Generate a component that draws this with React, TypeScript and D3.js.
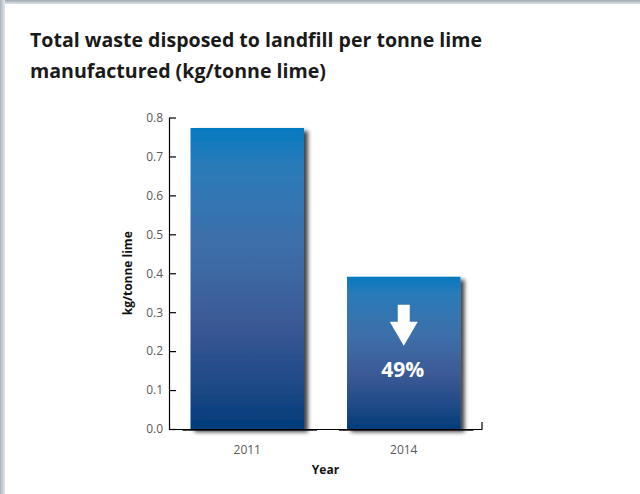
import React, { useEffect, useRef } from "react";
import * as d3 from "d3";

// chart data
const years = ["2011", "2014"];
const wastePerTonne = [0.773, 0.391];
const yTicks = [0, 0.1, 0.2, 0.3, 0.4, 0.5, 0.6, 0.7, 0.8];
const titleLines = ["Total waste disposed to landfill per tonne lime", "manufactured (kg/tonne lime)"];
const changeLabel = "49%";

const W = 640;
const H = 494;

const App = () => {
    const svgRef = useRef<SVGSVGElement>(null);

    useEffect(() => {
        const svg = d3.select(svgRef.current);
        svg.selectAll("*").remove();

        const margin = { top: 117.5, right: 158, bottom: 65, left: 169 };
        const font = "'Open Sans', 'Noto Sans', sans-serif";

        const defs = svg.append("defs");

        // bar gradient, bright blue on top to navy at the bottom
        const grad = defs.append("linearGradient").attr("id", "barGrad")
            .attr("x1", 0).attr("y1", 0).attr("x2", 0).attr("y2", 1);
        [["0%", "#0479c0"], ["12%", "#2a7bb9"], ["40%", "#3e6ea9"], ["65%", "#3a5995"], ["88%", "#1b4685"], ["100%", "#003c79"]]
            .forEach(([o, c]) => grad.append("stop").attr("offset", o).attr("stop-color", c));

        const frameTop = defs.append("linearGradient").attr("id", "frameTop")
            .attr("x1", 0).attr("y1", 0).attr("x2", 0).attr("y2", 1);
        frameTop.append("stop").attr("offset", "0%").attr("stop-color", "#9ea8b2");
        frameTop.append("stop").attr("offset", "100%").attr("stop-color", "#dfe4e8");
        const frameLeft = defs.append("linearGradient").attr("id", "frameLeft")
            .attr("x1", 0).attr("y1", 0).attr("x2", 1).attr("y2", 0);
        frameLeft.append("stop").attr("offset", "0%").attr("stop-color", "#a9b3bd");
        frameLeft.append("stop").attr("offset", "100%").attr("stop-color", "#e4e8ec");

        const shadow = defs.append("filter").attr("id", "shadow")
            .attr("x", "-10%").attr("y", "-10%").attr("width", "130%").attr("height", "130%");
        shadow.append("feDropShadow").attr("dx", 4).attr("dy", 3).attr("stdDeviation", 2.2)
            .attr("flood-color", "#000").attr("flood-opacity", 0.75);

        // page background and frame
        svg.append("rect").attr("width", W).attr("height", H).attr("fill", "#fff");
        svg.append("rect").attr("x", 0).attr("y", 0).attr("width", W).attr("height", 4).attr("fill", "url(#frameTop)");
        svg.append("rect").attr("x", 0).attr("y", 0).attr("width", 5).attr("height", H).attr("fill", "url(#frameLeft)");

        // title, fitted to the reference line widths
        const titleWidths = [452, 296];
        svg.append("g").selectAll("text").data(titleLines).join("text")
            .attr("x", 30).attr("y", (d, i) => 47 + i * 31)
            .attr("font-family", font).attr("font-weight", 700).attr("font-size", 19.5)
            .attr("textLength", (d, i) => titleWidths[i]).attr("lengthAdjust", "spacingAndGlyphs")
            .attr("fill", "#1a1a1a").text(d => d);

        const x = d3.scaleBand().domain(years).range([margin.left, W - margin.right])
            .paddingInner(0.275).paddingOuter(0.1375);
        const y = d3.scaleLinear().domain([0, 0.8]).range([H - margin.bottom, margin.top]);

        // bars
        svg.append("g").selectAll("rect").data(years).join("rect")
            .attr("x", d => x(d)!)
            .attr("y", (d, i) => y(wastePerTonne[i]))
            .attr("width", x.bandwidth())
            .attr("height", (d, i) => y(0) - y(wastePerTonne[i]))
            .attr("fill", "url(#barGrad)")
            .attr("filter", "url(#shadow)");

        // dark base line under each bar
        svg.append("g").selectAll("line").data(years).join("line")
            .attr("x1", d => x(d)! - 8).attr("x2", d => x(d)! + x.bandwidth() + 13)
            .attr("y1", y(0) + 1).attr("y2", y(0) + 1)
            .attr("stroke", "#111").attr("stroke-width", 1.5);

        // y axis
        const yAxis = svg.append("g").attr("transform", `translate(${margin.left},0)`)
            .call(d3.axisRight(y).tickValues(yTicks).tickFormat(d3.format(".1f")).tickSize(7).tickSizeOuter(0));
        yAxis.select(".domain").attr("stroke", "#000").attr("stroke-width", 1.2);
        yAxis.selectAll(".tick line").attr("stroke", "#000").attr("stroke-width", 1.2);
        yAxis.selectAll(".tick text")
            .attr("x", -6).attr("text-anchor", "end")
            .attr("font-family", font).attr("font-size", 12).attr("fill", "#5a5a5a");

        // x axis
        const xAxis = svg.append("g").attr("transform", `translate(0,${y(0)})`)
            .call(d3.axisBottom(x).tickSize(0).tickSizeOuter(0).tickPadding(16));
        xAxis.select(".domain").attr("stroke", "#000").attr("stroke-width", 1.2);
        xAxis.selectAll(".tick text")
            .attr("font-family", font).attr("font-size", 12).attr("fill", "#5a5a5a");
        xAxis.append("line")
            .attr("x1", W - margin.right).attr("x2", W - margin.right)
            .attr("y1", 0).attr("y2", -7)
            .attr("stroke", "#000").attr("stroke-width", 1.2);

        // axis titles
        svg.append("text")
            .attr("x", (margin.left + W - margin.right) / 2).attr("y", H - 20)
            .attr("text-anchor", "middle")
            .attr("font-family", font).attr("font-weight", 700).attr("font-size", 12)
            .attr("fill", "#111").text("Year");
        svg.append("text")
            .attr("transform", `translate(132,${(y(0) + y(0.8)) / 2}) rotate(-90)`)
            .attr("text-anchor", "middle")
            .attr("font-family", font).attr("font-weight", 700).attr("font-size", 12)
            .attr("fill", "#111").text("kg/tonne lime");

        // decrease marker inside the 2014 bar
        const cx = x("2014")! + x.bandwidth() / 2;
        const top = y(wastePerTonne[1]);
        const arrow = d3.path();
        arrow.moveTo(cx - 6, top + 28);
        arrow.lineTo(cx + 6, top + 28);
        arrow.lineTo(cx + 6, top + 45);
        arrow.lineTo(cx + 14, top + 45);
        arrow.lineTo(cx, top + 69);
        arrow.lineTo(cx - 14, top + 45);
        arrow.lineTo(cx - 6, top + 45);
        arrow.closePath();
        svg.append("path").attr("d", arrow.toString()).attr("fill", "#fff");
        svg.append("text")
            .attr("x", cx - 1).attr("y", top + 100)
            .attr("text-anchor", "middle")
            .attr("font-family", font).attr("font-weight", 700).attr("font-size", 21)
            .attr("fill", "#fff").text(changeLabel);
    }, []);

    return <svg ref={svgRef} width={W} height={H} style={{ position: "absolute", left: 0, top: 0 }} />;
};

export default App;
